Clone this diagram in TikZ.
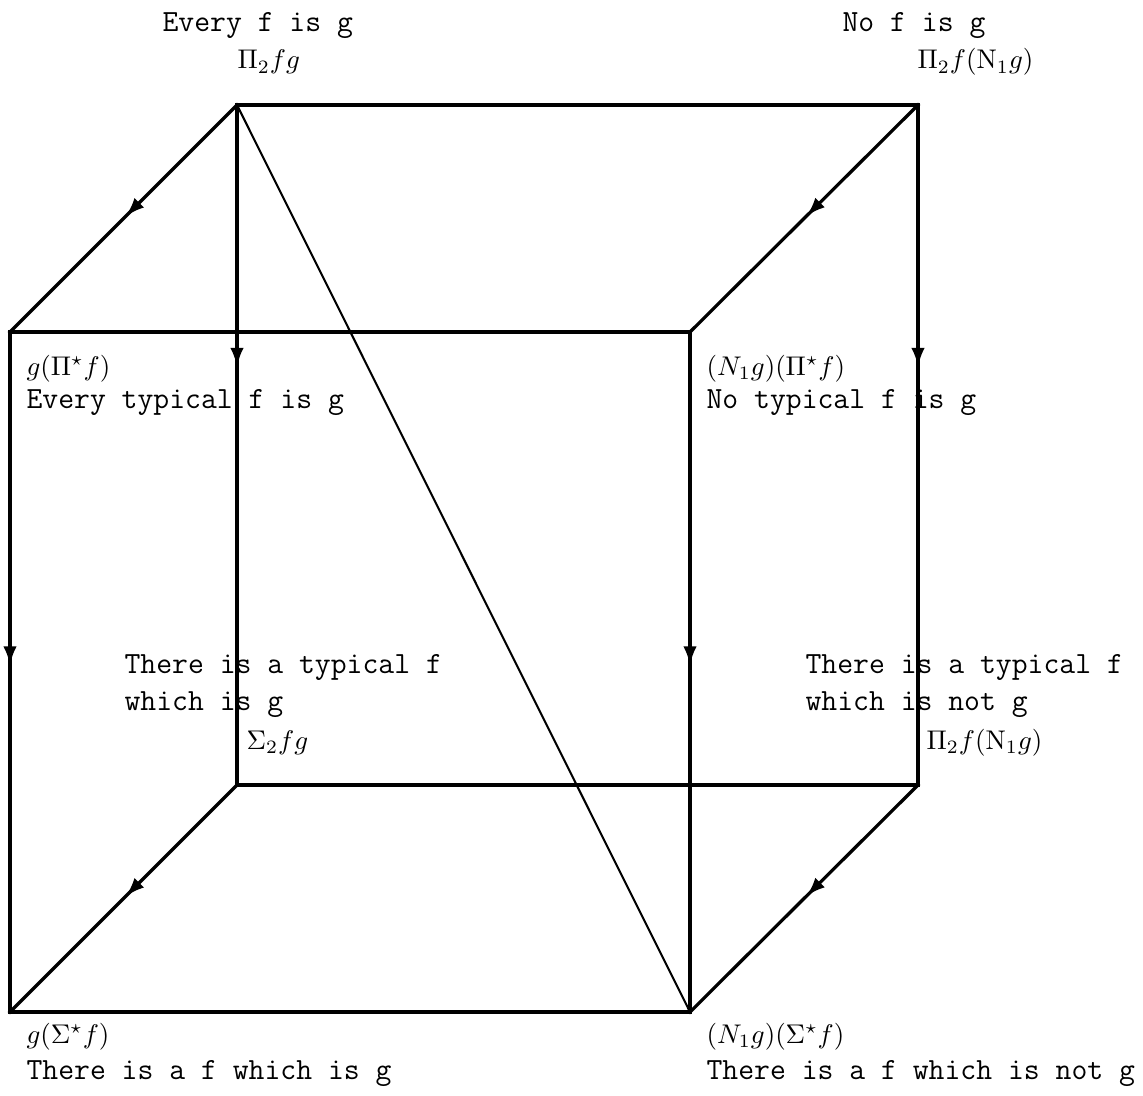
\documentclass[tikz,border=0pt]{standalone}
\usepackage{amsmath}
\usepackage{tikz}
\usetikzlibrary{arrows.meta,decorations.markings}

\begin{document}
\begin{tikzpicture}[
    x=0.37pt, y=-0.37pt,
    edge/.style={line width=1.2pt, line cap=rect},
    diag edge/.style={line width=0.75pt},
    mid arrow/.style={postaction={decorate}, decoration={markings, mark=at position #1 with {\arrow{Latex[length=7pt,width=5pt]}}}},
    mid arrow/.default=0.49,
    words/.style={font=\fontsize{11.4}{13}\ttfamily, anchor=base west, inner sep=0pt},
    formula/.style={anchor=base west, inner sep=0pt}
]
  \useasboundingbox (0,0) rectangle (1143,1095);

  % corners of the cube
  \coordinate (backTL) at (237,105);
  \coordinate (backTR) at (918,105);
  \coordinate (backBR) at (918,785);
  \coordinate (backBL) at (237,785);
  \coordinate (frontTL) at (10,332);
  \coordinate (frontTR) at (690,332);
  \coordinate (frontBR) at (690,1012);
  \coordinate (frontBL) at (10,1012);

  \draw[edge] (backTL) -- (backTR);
  \draw[edge] (backBL) -- (backBR);
  \draw[edge] (frontTL) -- (frontTR);
  \draw[edge] (frontBL) -- (frontBR);

  \draw[edge, mid arrow] (backTL) -- (frontTL);
  \draw[edge, mid arrow] (backTR) -- (frontTR);
  \draw[edge, mid arrow] (backBL) -- (frontBL);
  \draw[edge, mid arrow] (backBR) -- (frontBR);

  \draw[edge, mid arrow=0.385] (backTL) -- (backBL);
  \draw[edge, mid arrow=0.385] (backTR) -- (backBR);
  \draw[edge, mid arrow] (frontTL) -- (frontBL);
  \draw[edge, mid arrow] (frontTR) -- (frontBR);

  \draw[diag edge] (backTL) -- (frontBR);

  % labels
  \node[words] (everyTxt) at (162,32) {Every f is g};
  \node[formula] (everyMath) at (237,69) {$\Pi_2fg$};
  \node[words] (noTxt) at (842,32) {No f is g};
  \node[formula] (noMath) at (917,69) {$\Pi_2f(\mathrm{N}_1g)$};

  \node[formula] (typMath) at (26,375) {$g(\Pi^\star f)$};
  \node[words] (typTxt) at (26,408) {Every typical f is g};
  \node[formula] (notypMath) at (706,375) {$(N_1g)(\Pi^\star f)$};
  \node[words] (notypTxt) at (706,408) {No typical f is g};

  \node[words] (someTypTxt) at (124,673) {There is a typical f};
  \node[words] (someTypTxtB) at (124,710) {which is g};
  \node[formula] (someTypMath) at (246,749) {$\Sigma_2fg$};
  \node[words] (notTypTxt) at (805,673) {There is a typical f};
  \node[words] (notTypTxtB) at (805,710) {which is not g};
  \node[formula] (notTypMath) at (926,749) {$\Pi_2f(\mathrm{N}_1g)$};

  \node[formula] (someMath) at (26,1043) {$g(\Sigma^\star f)$};
  \node[words] (someTxt) at (26,1079) {There is a f which is g};
  \node[formula] (someNotMath) at (706,1043) {$(N_1g)(\Sigma^\star f)$};
  \node[words] (someNotTxt) at (706,1079) {There is a f which is not g};
\end{tikzpicture}
\end{document}
